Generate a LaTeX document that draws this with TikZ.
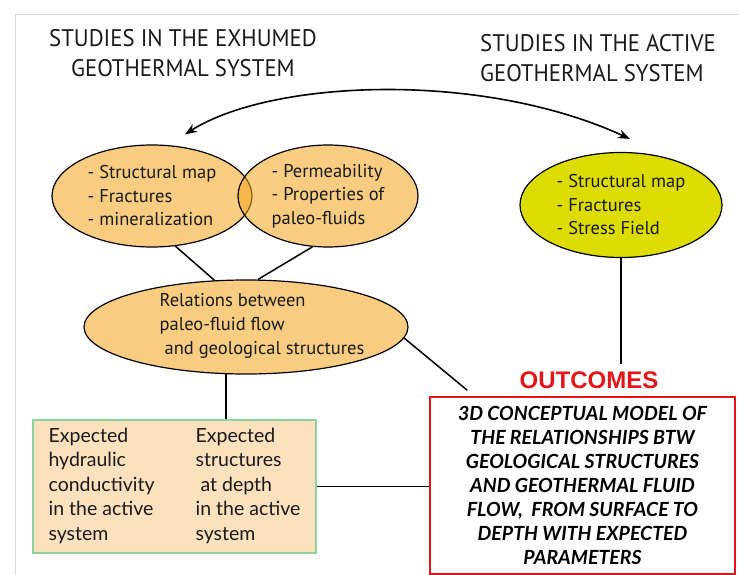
\documentclass[tikz,border=0pt]{standalone}
\usepackage{fontspec}
\setmainfont{PT Sans}
\newfontfamily\titfont[FakeStretch=0.95]{PT Sans}
\newfontfamily\cajafont{Lato}
\newfontfamily\rojofont{Liberation Sans}
\usetikzlibrary{positioning,arrows.meta,calc,shapes.geometric}
\definecolor{naranja}{RGB}{242,166,32}
\definecolor{amarillo}{HTML}{DCDC00}
\definecolor{melocoton}{HTML}{FCE1BE}
\definecolor{verdeclaro}{HTML}{8ED49E}
\definecolor{rojo}{HTML}{E3151A}
\definecolor{marco}{HTML}{D9D9D9}
\definecolor{tinta}{HTML}{1A1A1A}

\begin{document}
\begin{tikzpicture}[x=1pt, y=-1pt,
  titulo/.style={font=\titfont\fontsize{24}{30.5}\selectfont, text=tinta, inner sep=0pt},
  elipse/.style={ellipse, draw=black, line width=1.2pt, fill=naranja, fill opacity=0.56, text opacity=1, inner sep=0pt, align=left, text=tinta, font=\fontsize{18.5}{23.5}\selectfont},
  texto/.style={align=left, text=tinta, inner sep=0pt, font=\fontsize{18.5}{24}\selectfont},
  caja/.style={draw=verdeclaro, fill=melocoton, line width=1.5pt, minimum width=283pt, minimum height=133pt, text=tinta, font=\cajafont\fontsize{19.5}{24.5}\selectfont},
  modelo/.style={draw=rojo, line width=1.5pt, minimum width=305pt, minimum height=177pt, align=center, text=black, font=\cajafont\bfseries\itshape\fontsize{19.5}{24}\selectfont},
  salida/.style={font=\rojofont\bfseries\fontsize{24}{26}\selectfont, text=rojo, inner sep=2pt},
  linea/.style={line width=1.5pt, black},
  flecha/.style={{Stealth[length=12pt,width=9pt]}-{Stealth[length=12pt,width=9pt]}, line width=1.6pt, black}
]
\useasboundingbox (0,0) rectangle (739,575);
% marco
\draw[marco, line width=0.8pt] (15,575) -- (15,14) -- (739,14);

% titulos
\node[titulo, align=center] (tizq) at (183,53) {STUDIES IN THE EXHUMED\\GEOTHERMAL SYSTEM};
\node[titulo, align=left, anchor=west] (tder) at (480,58) {STUDIES IN THE ACTIVE\\GEOTHERMAL SYSTEM};

% sistema exhumado
\node[elipse, minimum width=200pt, minimum height=102pt] (mapa) at (152,196) {- Structural map\\- Fractures\\- mineralization};
\node[elipse, minimum width=180pt, minimum height=102pt] (perm) at (328,196) {- Permeability\\- Properties of\\paleo-fluids};
\node[elipse, minimum width=324pt, minimum height=94pt] (rel) at (246,327) {};
\node[texto] (reltxt) at (262,326) {Relations between\\paleo-fluid flow\\\ and geological structures};

% sistema activo
\node[elipse, fill=amarillo, fill opacity=1, minimum width=202pt, minimum height=105pt] (act) at (621,205) {- Structural map\\- Fractures\\- Stress Field};

% resultados
\node[caja] (esp) at (174.5,486.5) {\begin{tabular}{@{}p{147pt}@{}l@{}}
Expected & Expected\\
hydraulic & structures\\
conductivity & \ at depth\\
in the active & in the active\\
system & system
\end{tabular}};
\node[salida] (tit) at (589,380) {OUTCOMES};
\node[modelo] (modelo) at (582.5,485.5) {3D CONCEPTUAL MODEL OF\\THE RELATIONSHIPS BTW\\GEOLOGICAL STRUCTURES\\AND GEOTHERMAL FLUID\\FLOW,\ \ FROM SURFACE TO\\DEPTH WITH EXPECTED\\PARAMETERS};

% conectores
\draw[flecha] ($(mapa.north)+(33,-10)$) .. controls (270,80) and (480,70) .. ($(act.north)+(9,-13)$);
\draw[linea] (mapa.-65) -- (rel.124);
\draw[linea] (perm.-107) -- (rel.76);
\draw[linea] (rel.-4) -- ($(modelo.north west)+(38,-6)$);
\draw[linea] (rel.-113) -- (rel.-113 |- esp.north);
\draw[linea] (act.south) -- ($(act.south |- tit.north)+(0,-5)$);
\draw[linea] (esp.east) -- (esp.east -| modelo.west);
\end{tikzpicture}
\end{document}
